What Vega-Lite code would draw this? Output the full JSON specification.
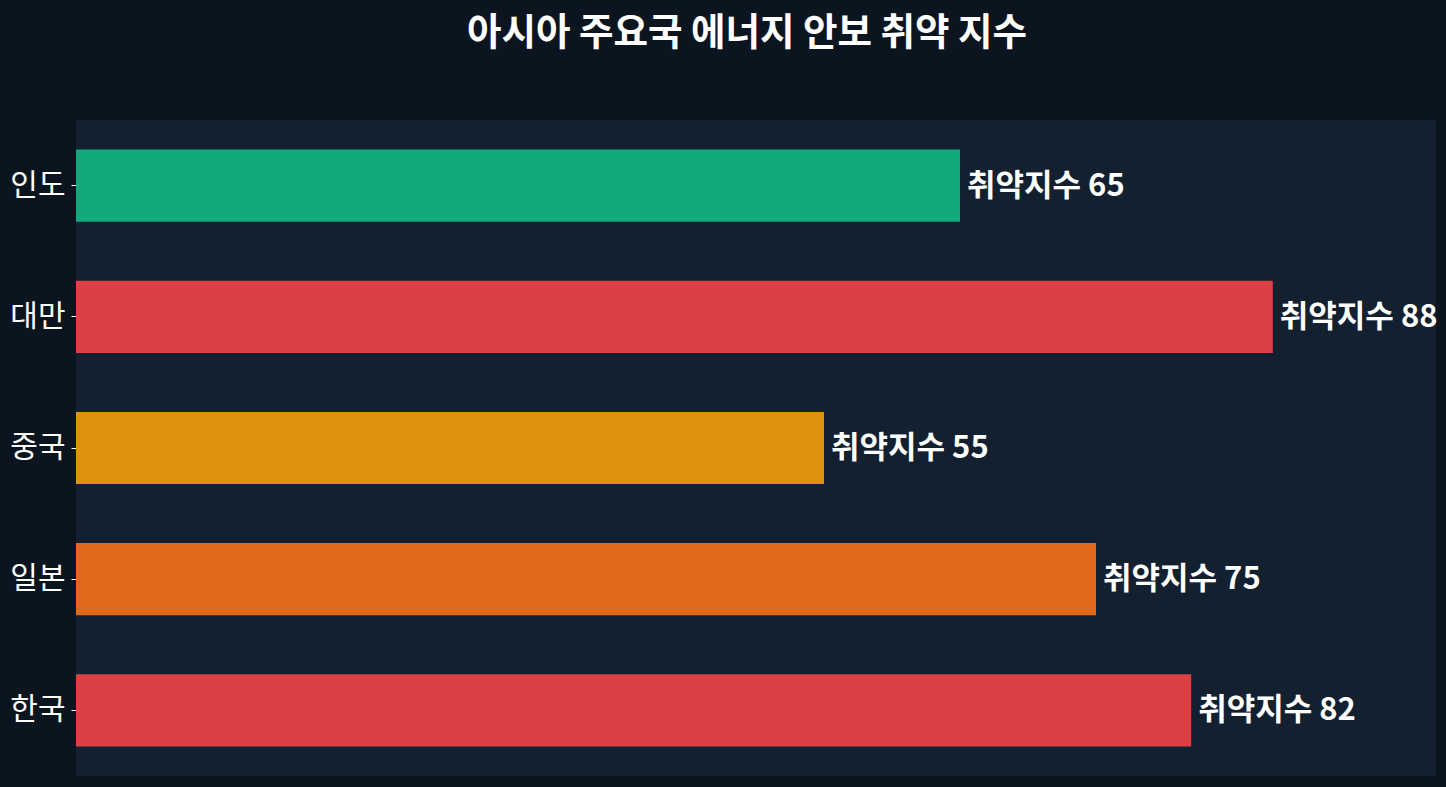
{
  "$schema": "https://vega.github.io/schema/vega-lite/v6.json",
  "autosize": {"type": "none"},
  "width": 1360,
  "height": 656,
  "padding": {"left": 76, "top": 120, "right": 10, "bottom": 11},
  "background": "#0b1520",
  "title": {
    "text": "아시아 주요국 에너지 안보 취약 지수",
    "font": "Noto Sans CJK KR",
    "fontSize": 37.5,
    "fontWeight": "bold",
    "color": "#ffffff",
    "anchor": "middle",
    "dx": -9,
    "offset": 68
  },
  "config": {
    "view": {"fill": "#12202f", "stroke": null},
    "font": "Noto Sans CJK KR"
  },
  "data": {
    "values": [
      {"country": "인도", "score": 65, "label": "취약지수 65", "color": "#12aa7c"},
      {"country": "대만", "score": 88, "label": "취약지수 88", "color": "#da4044"},
      {"country": "중국", "score": 55, "label": "취약지수 55", "color": "#df9210"},
      {"country": "일본", "score": 75, "label": "취약지수 75", "color": "#e0691a"},
      {"country": "한국", "score": 82, "label": "취약지수 82", "color": "#da4044"}
    ]
  },
  "encoding": {
    "y": {
      "field": "country",
      "type": "nominal",
      "sort": null,
      "scale": {"paddingInner": 0.45, "paddingOuter": 0.225},
      "axis": {
        "title": null,
        "domain": false,
        "tickColor": "#ffffff",
        "tickSize": 5,
        "labelPadding": 6,
        "labelColor": "#ffffff",
        "labelFontSize": 30,
        "labelFont": "Noto Sans CJK KR"
      }
    },
    "x": {
      "field": "score",
      "type": "quantitative",
      "scale": {"domain": [0, 100]},
      "axis": null
    }
  },
  "layer": [
    {
      "mark": {"type": "bar"},
      "encoding": {
        "color": {"field": "color", "type": "nominal", "scale": null}
      }
    },
    {
      "mark": {
        "type": "text",
        "align": "left",
        "baseline": "middle",
        "dx": 7,
        "dy": 1,
        "fontSize": 31,
        "fontWeight": "bold",
        "color": "#ffffff"
      },
      "encoding": {
        "text": {"field": "label"}
      }
    }
  ]
}
